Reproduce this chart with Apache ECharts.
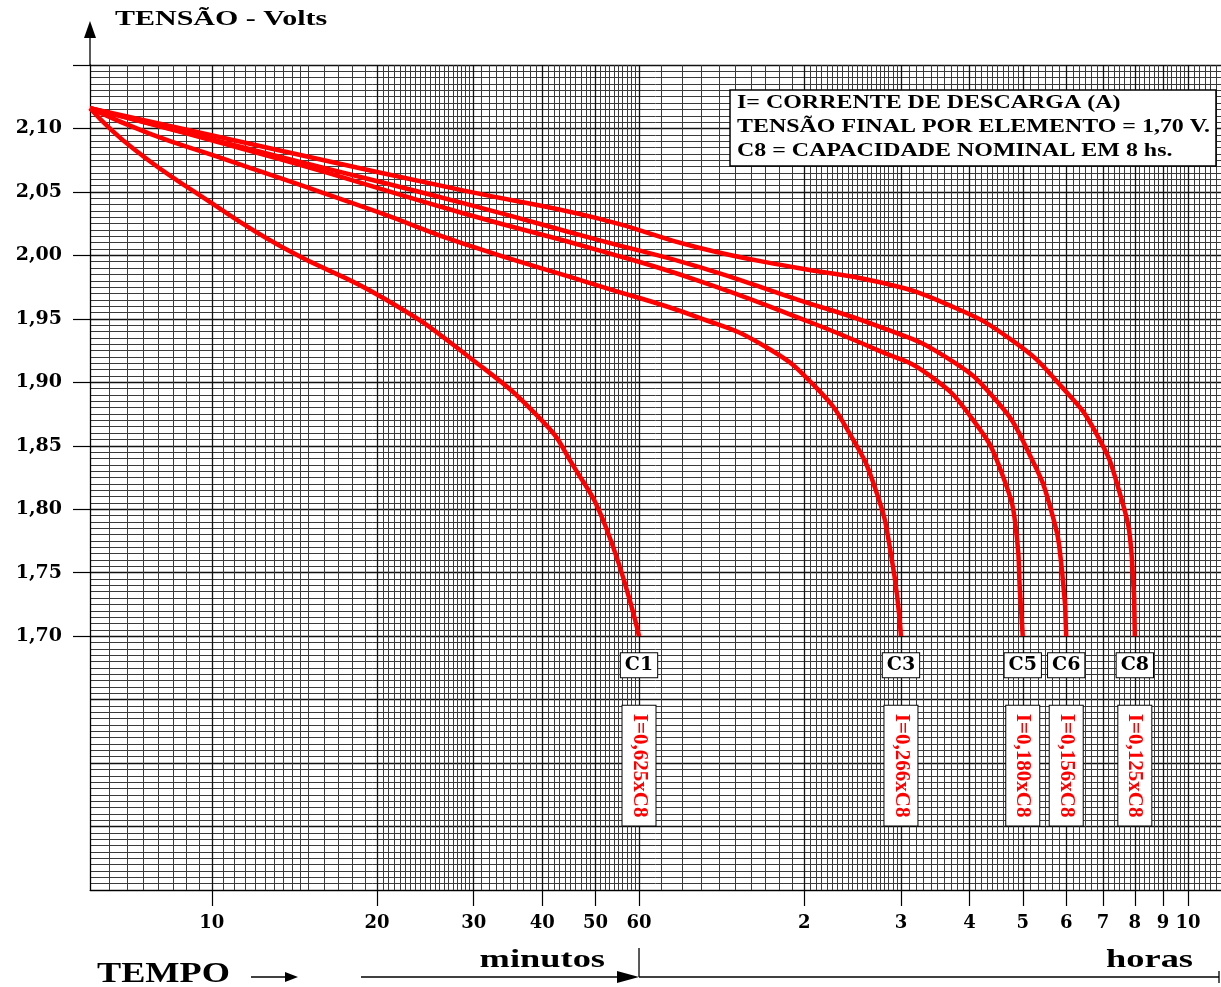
<!DOCTYPE html>
<html>
<head>
<meta charset="utf-8">
<script src="https://cdn.jsdelivr.net/npm/echarts@6/dist/echarts.min.js"></script>
<style>
  html, body { margin: 0; padding: 0; background: #fff; }
  #chart { width: 1221px; height: 987px; }
</style>
</head>
<body>
<div id="chart"></div>
<script>
const SERIF = '"Liberation Serif", "Times New Roman", serif';
const WIDE_SERIF = '"DejaVu Serif", "Liberation Serif", serif';

// Discharge curves: elapsed time (minutes) and voltage per cell (V)
const c1Minutes = [6, 7.2, 9.7, 13.5, 20.6, 29.4, 39.9, 45.3, 52.2, 60];
const c1Volts   = [2.116, 2.084, 2.045, 2.006, 1.966, 1.920, 1.870, 1.836, 1.786, 1.700];

const c3Minutes = [6, 7.7, 10.2, 13.5, 20.1, 28.8, 50.7, 77.1, 102, 126, 145, 162, 173, 180];
const c3Volts   = [2.116, 2.096, 2.078, 2.060, 2.034, 2.009, 1.976, 1.951, 1.928, 1.896, 1.860, 1.815, 1.762, 1.700];

const c5Minutes = [6, 13.5, 28.8, 50.7, 77.1, 117, 164, 202, 242, 275, 293, 296.4, 300];
const c5Volts   = [2.116, 2.075, 2.033, 2.004, 1.980, 1.951, 1.925, 1.906, 1.872, 1.828, 1.776, 1.736, 1.700];

const c6Minutes = [6, 13.5, 28.8, 50.7, 77.1, 117, 164, 217, 268, 308, 339, 354, 360];
const c6Volts   = [2.116, 2.077, 2.041, 2.012, 1.991, 1.965, 1.944, 1.920, 1.886, 1.844, 1.797, 1.750, 1.700];

const c8Minutes = [6, 13.5, 28.8, 50.7, 77.1, 117, 164, 217, 287, 354, 408, 449, 474, 480];
const c8Volts   = [2.116, 2.082, 2.051, 2.029, 2.006, 1.990, 1.979, 1.962, 1.933, 1.896, 1.860, 1.815, 1.762, 1.700];

const curveNames    = ['C1', 'C3', 'C5', 'C6', 'C8'];
const currentLabels = ['I=0,625xC8', 'I=0,266xC8', 'I=0,180xC8', 'I=0,156xC8', 'I=0,125xC8'];
const curveMinutes  = [c1Minutes, c3Minutes, c5Minutes, c6Minutes, c8Minutes];
const curveVolts    = [c1Volts, c3Volts, c5Volts, c6Volts, c8Volts];

// Labelled time ticks (minutes); from 2 h on they are shown in hours
const timeTicks  = [10, 20, 30, 40, 50, 60, 120, 180, 240, 300, 360, 420, 480, 540, 600];
const voltTicks  = [1.70, 1.75, 1.80, 1.85, 1.90, 1.95, 2.00, 2.05, 2.10];
const voltTickMarks = voltTicks.concat([2.15]);

const infoLines = [
  'I= CORRENTE DE DESCARGA (A)',
  'TENSÃO FINAL POR ELEMENTO = 1,70 V.',
  'C8 = CAPACIDADE NOMINAL EM 8 hs.'
];

// Log-paper rulings: [from, to, step] in minutes
const paperRanges = [[6, 10, 0.5], [10, 15, 0.5], [15, 20, 1], [20, 30, 0.5], [30, 60, 1],
                     [60, 120, 6], [120, 180, 3], [180, 300, 6], [300, 600, 10], [600, 690, 15]];
function paperLines() {
  const out = [];
  paperRanges.forEach(([a, b, s]) => {
    for (let v = a; v < b - 1e-9; v += s) out.push(+v.toFixed(3));
  });
  return out;
}

const X_MIN = 6, X_MAX = 689;
const Y_MIN = 1.50, Y_MAX = 2.15;
const NAME_ROW_V = 1.677;     // row of the C-boxes below the curve ends
const CURRENT_ROW_V = 1.598;  // row of the vertical current boxes

const chart = echarts.init(document.getElementById('chart'), null, { renderer: 'canvas' });

const series = curveNames.map((name, i) => {
  const mins = curveMinutes[i], volts = curveVolts[i];
  const end = mins[mins.length - 1];
  return {
    name: name,
    type: 'line',
    xAxisIndex: 0,
    yAxisIndex: 0,
    data: mins.map((m, k) => [m, volts[k]]),
    symbol: 'none',
    smooth: 0.5,
    lineStyle: { color: '#ff0000', width: 4.5, cap: 'butt' },
    z: 5,
    markPoint: {
      silent: true,
      symbol: 'rect',
      symbolSize: 1,
      itemStyle: { color: 'rgba(0,0,0,0)' },
      data: [
        {
          coord: [end, NAME_ROW_V],
          label: {
            show: true, position: 'inside', formatter: name,
            fontFamily: WIDE_SERIF, fontWeight: 'bold', fontSize: 19, color: '#000',
            backgroundColor: '#fff', borderColor: '#000', borderWidth: 1,
            padding: [3, 4, 2, 4]
          }
        },
        {
          coord: [end, CURRENT_ROW_V],
          label: {
            show: true, position: 'inside', formatter: currentLabels[i], rotate: -90,
            fontFamily: SERIF, fontWeight: 'bold', fontSize: 21, color: '#ff0000',
            backgroundColor: '#fff', borderColor: '#000', borderWidth: 1,
            padding: [7, 8, 5, 8]
          }
        }
      ]
    }
  };
});

chart.setOption({
  animation: false,
  backgroundColor: '#fff',
  grid: { left: 90, right: 0, top: 65, bottom: 97, containLabel: false },
  xAxis: [
    {
      type: 'log', min: X_MIN, max: X_MAX, position: 'bottom', z: 1,
      axisLine: { show: true, lineStyle: { color: '#000', width: 1 } },
      axisTick: { show: true, customValues: timeTicks, length: 16, lineStyle: { color: '#000', width: 1.2 } },
      axisLabel: {
        show: true, customValues: timeTicks, margin: 24,
        formatter: v => (v <= 60 ? String(Math.round(v)) : String(Math.round(v / 60))),
        fontFamily: WIDE_SERIF, fontWeight: 'bold', fontSize: 18, color: '#000'
      },
      splitLine: { show: true, lineStyle: { color: '#111', width: 1.3 } },
      minorTick: { show: false }, minorSplitLine: { show: false }
    },
    {
      type: 'log', min: X_MIN, max: X_MAX, position: 'top', z: 0,
      axisLine: { show: false },
      axisTick: { show: false, customValues: paperLines() },
      axisLabel: { show: false },
      splitLine: { show: true, lineStyle: { color: '#3a3a3a', width: 1 } }
    }
  ],
  yAxis: [
    {
      type: 'value', min: Y_MIN, max: Y_MAX, interval: 0.05, position: 'left', z: 1,
      axisLine: { show: true, lineStyle: { color: '#000', width: 1.3 } },
      axisTick: { show: true, customValues: voltTickMarks, length: 17, lineStyle: { color: '#000', width: 1.2 } },
      axisLabel: {
        show: true, customValues: voltTicks, margin: 28,
        formatter: v => v.toFixed(2).replace('.', ','),
        fontFamily: WIDE_SERIF, fontWeight: 'bold', fontSize: 19, color: '#000'
      },
      splitLine: { show: false }
    },
    {
      type: 'value', min: Y_MIN, max: Y_MAX, interval: 0.05, position: 'left', z: 0,
      axisLine: { show: false }, axisTick: { show: false }, axisLabel: { show: false },
      splitLine: { show: true, lineStyle: { color: '#111', width: 1.3 } },
      minorTick: { show: false, splitNumber: 10 },
      minorSplitLine: { show: true, lineStyle: { color: '#3a3a3a', width: 1 } }
    }
  ],
  series: series
});

// Decorations placed from the axis scale
const x60 = chart.convertToPixel({ xAxisIndex: 0 }, 60);
const xLeft = chart.convertToPixel({ xAxisIndex: 0 }, X_MIN);
const yTop = chart.convertToPixel({ yAxisIndex: 0 }, Y_MAX);
const W = chart.getWidth();

function caption(text, x, y, size, stretch, align) {
  return {
    type: 'text', x: x, y: y, scaleX: stretch, z: 30,
    style: { text: text, font: 'bold ' + size + 'px ' + SERIF, fill: '#000',
             align: align || 'left', verticalAlign: 'middle' }
  };
}

const infoBox = [
  { type: 'rect', z: 30, shape: { x: 730, y: 90, width: 486, height: 76 },
    style: { fill: '#fff', stroke: '#000', lineWidth: 1.5 } }
].concat(infoLines.map((t, i) => caption(t, 737, 103 + i * 24, 18, 1.33)));

chart.setOption({
  graphic: [
    // vertical axis arrow
    { type: 'line', z: 30, shape: { x1: xLeft, y1: yTop, x2: xLeft, y2: 36 }, style: { stroke: '#000', lineWidth: 1.3 } },
    { type: 'polygon', z: 30, shape: { points: [[xLeft - 6, 38], [xLeft + 6, 38], [xLeft, 21]] }, style: { fill: '#000' } },
    caption('TENSÃO - Volts', 115, 20, 20, 1.5),
    // time caption
    caption('TEMPO', 97, 975, 29, 1.25),
    { type: 'line', z: 30, shape: { x1: 251, y1: 977, x2: 287, y2: 977 }, style: { stroke: '#000', lineWidth: 1.5 } },
    { type: 'polygon', z: 30, shape: { points: [[285, 972], [285, 982], [298, 977]] }, style: { fill: '#000' } },
    { type: 'line', z: 30, shape: { x1: 361, y1: 977, x2: x60 - 18, y2: 977 }, style: { stroke: '#000', lineWidth: 1.3 } },
    { type: 'polygon', z: 30, shape: { points: [[x60 - 22, 971], [x60 - 22, 983], [x60, 977]] }, style: { fill: '#000' } },
    { type: 'line', z: 30, shape: { x1: x60, y1: 948, x2: x60, y2: 977 }, style: { stroke: '#000', lineWidth: 1.3 } },
    { type: 'line', z: 30, shape: { x1: x60, y1: 977, x2: W - 2, y2: 977 }, style: { stroke: '#000', lineWidth: 1.3 } },
    { type: 'line', z: 30, shape: { x1: W - 2, y1: 971, x2: W - 2, y2: 983 }, style: { stroke: '#000', lineWidth: 1.3 } },
    caption('minutos', 605, 960, 26, 1.4, 'right'),
    caption('horas', 1193, 960, 26, 1.4, 'right')
  ].concat(infoBox)
});
</script>
</body>
</html>
